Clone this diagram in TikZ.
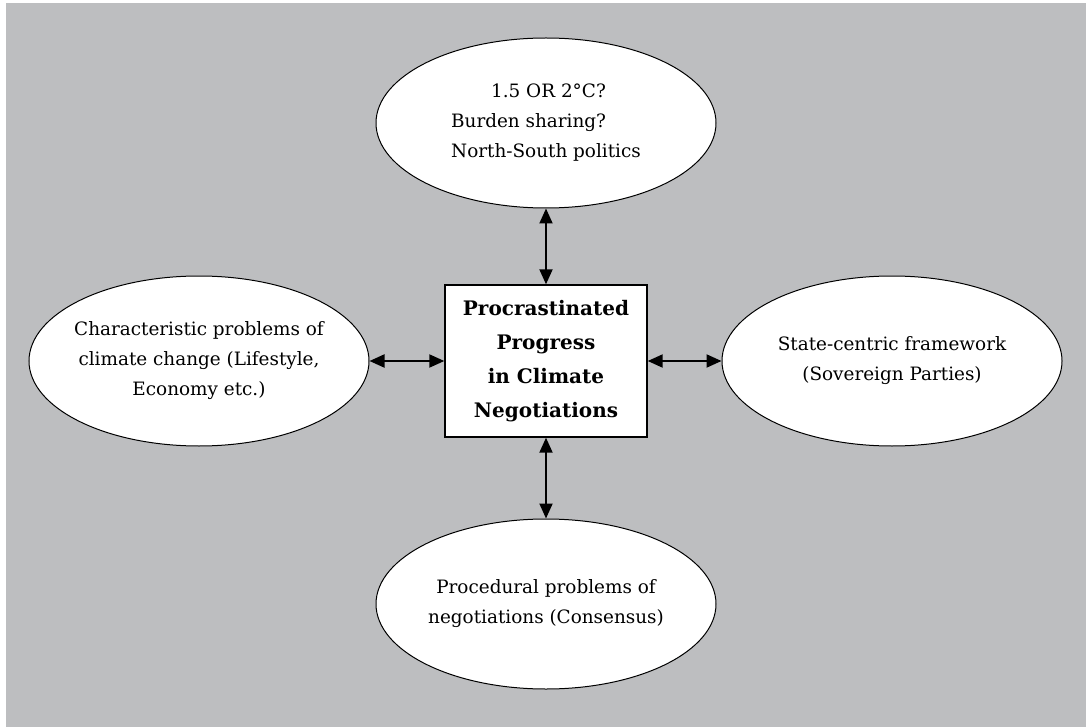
\documentclass[tikz,border=0pt]{standalone}
\usepackage{fontspec}
\setmainfont{DejaVu Serif}
\usetikzlibrary{shapes.geometric,arrows.meta}
\definecolor{panelgray}{HTML}{BDBEC0}

\begin{document}
\begin{tikzpicture}[x=0.5pt,y=-0.5pt,
    issue/.style={ellipse,draw=black,line width=0.5pt,fill=white,
      minimum width=170pt,minimum height=85pt,inner sep=-6pt,align=center,
      font=\fontsize{9.2}{15}\selectfont},
    core/.style={rectangle,draw=black,line width=0.7pt,fill=white,
      minimum width=101pt,minimum height=76pt,inner sep=0pt,align=center,
      font=\fontsize{10}{17}\selectfont\bfseries},
    link/.style={line width=1pt,
      {Triangle[length=7.5pt,width=6.5pt]}-{Triangle[length=7.5pt,width=6.5pt]}}]

    % Background panel
    \useasboundingbox (0,0) rectangle (1086,727);
    \fill[panelgray] (6,3) rectangle (1086,727);

    % Central problem
    \node[core] (core) at (546,361) {Procrastinated\\Progress\\in Climate\\Negotiations};

    % Target question
    \node[issue,align=left] (target) at (546,123)
      {\hspace*{20pt}1.5 OR 2°C?\\Burden sharing?\\North-South politics};

    % Characteristic problems
    \node[issue] (charac) at (199,361)
      {Characteristic problems of\\climate change (Lifestyle,\\Economy etc.)};

    % State-centric framework
    \node[issue] (state) at (892,361)
      {State-centric framework\\(Sovereign Parties)};

    % Procedural problems
    \node[issue] (proced) at (546,604)
      {Procedural problems of\\negotiations (Consensus)};

    % Arrows between box and ellipses
    \draw[link] (target) -- (core);
    \draw[link] (charac) -- (core);
    \draw[link] (core) -- (state);
    \draw[link] (core) -- (proced);
\end{tikzpicture}
\end{document}
